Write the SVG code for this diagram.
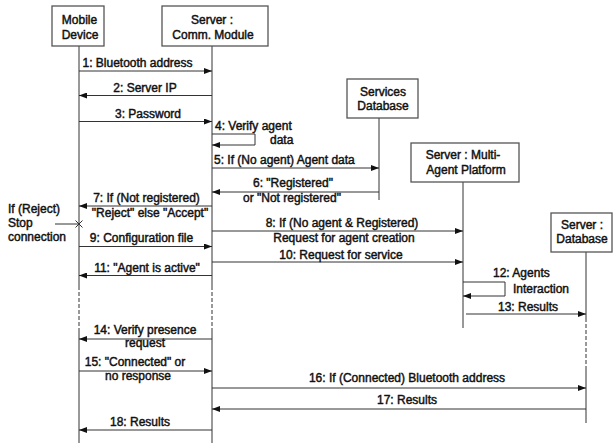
<svg xmlns="http://www.w3.org/2000/svg" width="616" height="445" viewBox="0 0 616 445">
<style>
text{font-family:"Liberation Sans",Arial,sans-serif;font-size:12px;fill:#111;stroke:#111;stroke-width:0.45}
.m{text-anchor:middle}
.box{fill:#fff;stroke:#555;stroke-width:1.3}
.life{stroke:#333;stroke-width:1;fill:none}
.dash{stroke:#333;stroke-width:1;stroke-dasharray:4,2;fill:none}
.msg{stroke:#333;stroke-width:1;fill:none;marker-end:url(#ah)}
.ln{stroke:#333;stroke-width:1;fill:none}
</style>
<defs>
<marker id="ah" viewBox="0 0 8 6" refX="8" refY="3" markerWidth="8" markerHeight="6" markerUnits="userSpaceOnUse" orient="auto">
<path d="M0,0 L8,3 L0,6 z" fill="#111"/>
</marker>
</defs>
<rect width="616" height="445" fill="#fff"/>

<g id="node-mobile">
<line class="life" x1="79" y1="46" x2="79" y2="286"/>
<line class="dash" x1="79" y1="286" x2="79" y2="330"/>
<line class="life" x1="79" y1="330" x2="79" y2="443"/>
<rect class="box" x="52" y="6" width="52" height="40"/>
<text class="m" x="79.5" y="24">Mobile</text>
<text class="m" x="80" y="39">Device</text>
</g>

<g id="node-comm">
<line class="life" x1="212" y1="46" x2="212" y2="286"/>
<line class="dash" x1="212" y1="286" x2="212" y2="328"/>
<line class="life" x1="212" y1="328" x2="212" y2="443"/>
<rect class="box" x="162" y="6" width="106" height="40"/>
<text class="m" x="212" y="24">Server :</text>
<text class="m" x="213" y="39">Comm. Module</text>
</g>

<g id="node-services">
<line class="life" x1="379" y1="118" x2="379" y2="200"/>
<rect class="box" x="347" y="79" width="71" height="39"/>
<text class="m" x="383" y="96">Services</text>
<text class="m" x="383" y="110">Database</text>
</g>

<g id="node-map">
<line class="life" x1="463" y1="182" x2="463" y2="328"/>
<rect class="box" x="411" y="143" width="108" height="39"/>
<text class="m" x="463" y="159">Server : Multi-</text>
<text class="m" x="466" y="174">Agent Platform</text>
</g>

<g id="node-serverdb">
<line class="life" x1="586" y1="252" x2="586" y2="318"/>
<line class="dash" x1="586" y1="318" x2="586" y2="368"/>
<line class="life" x1="586" y1="368" x2="586" y2="423"/>
<rect class="box" x="551" y="213" width="61" height="39"/>
<text class="m" x="582" y="229">Server :</text>
<text class="m" x="582" y="243">Database</text>
</g>

<g id="note-reject">
<text x="8" y="213">If (Reject)</text>
<text x="8" y="227">Stop</text>
<text x="8" y="241">connection</text>
<line class="ln" x1="55" y1="224" x2="79" y2="224"/>
<path class="ln" d="M75.5,220.5 L82.5,227.5 M82.5,220.5 L75.5,227.5"/>
</g>

<g id="connectors">
<line class="msg" x1="79" y1="71" x2="212" y2="71"/>
<text class="m" x="137.5" y="67">1: Bluetooth address</text>

<line class="msg" x1="212" y1="95.5" x2="79" y2="95.5"/>
<text class="m" x="145" y="92">2: Server IP</text>

<line class="msg" x1="79" y1="121.5" x2="212" y2="121.5"/>
<text class="m" x="148" y="118">3: Password</text>

<path class="msg" d="M212,134 H255 V145 H212"/>
<text x="215" y="130">4: Verify agent</text>
<text x="270" y="144">data</text>

<line class="msg" x1="212" y1="168" x2="379" y2="168"/>
<text x="214" y="164">5: If (No agent) Agent data</text>

<line class="msg" x1="379" y1="192" x2="212" y2="192"/>
<text x="253" y="187">6: "Registered"</text>
<text x="243" y="202">or "Not registered"</text>

<line class="msg" x1="212" y1="206" x2="79" y2="206"/>
<text class="m" x="146.5" y="202">7: If (Not registered)</text>
<text class="m" x="150" y="217">"Reject" else "Accept"</text>

<line class="msg" x1="212" y1="231" x2="463" y2="231"/>
<text class="m" x="342" y="227">8: If (No agent &amp; Registered)</text>
<text class="m" x="344" y="242">Request for agent creation</text>

<line class="msg" x1="79" y1="246.5" x2="212" y2="246.5"/>
<text class="m" x="141.5" y="242">9: Configuration file</text>

<line class="msg" x1="212" y1="262" x2="463" y2="262"/>
<text class="m" x="341" y="259">10: Request for service</text>

<line class="msg" x1="212" y1="275.5" x2="79" y2="275.5"/>
<text class="m" x="147" y="272">11: "Agent is active"</text>

<path class="msg" d="M463,282 H505 V296 H463"/>
<text x="493" y="277">12: Agents</text>
<text x="513" y="293">Interaction</text>

<line class="msg" x1="466" y1="314" x2="586" y2="314"/>
<text class="m" x="528" y="311">13: Results</text>

<line class="msg" x1="212" y1="339" x2="79" y2="339"/>
<text class="m" x="145" y="334">14: Verify presence</text>
<text class="m" x="145" y="347">request</text>

<line class="msg" x1="79" y1="371" x2="212" y2="371"/>
<text class="m" x="135" y="366">15: "Connected" or</text>
<text class="m" x="138" y="380">no response</text>

<line class="msg" x1="212" y1="388" x2="586" y2="388"/>
<text class="m" x="407" y="382">16: If (Connected) Bluetooth address</text>

<line class="msg" x1="586" y1="409" x2="212" y2="409"/>
<text class="m" x="407" y="404">17: Results</text>

<line class="msg" x1="212" y1="430" x2="79" y2="430"/>
<text class="m" x="140" y="426">18: Results</text>
</g>
</svg>
